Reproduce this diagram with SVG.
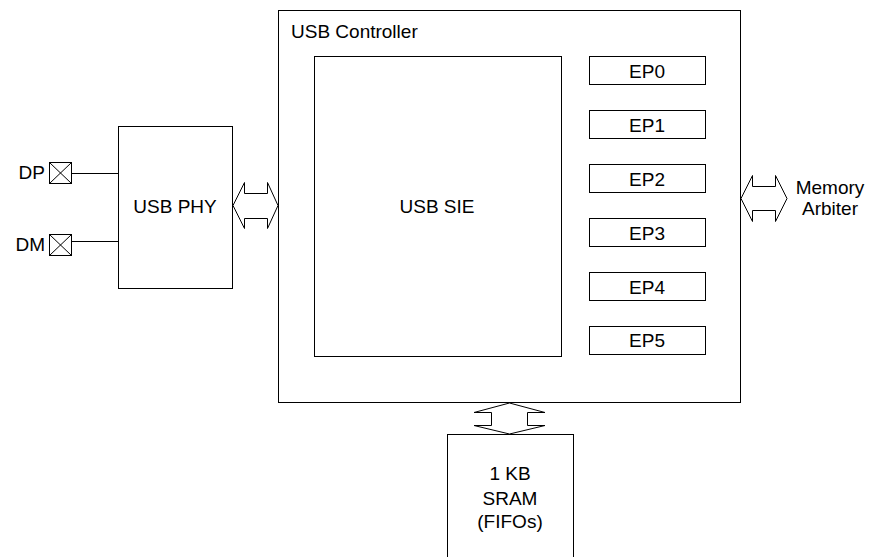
<svg xmlns="http://www.w3.org/2000/svg" width="869" height="557" viewBox="0 0 869 557">
<style>
.b{fill:#fff;stroke:#000;stroke-width:1}
.t{font-family:"Liberation Sans",Arial,sans-serif;font-size:19px;fill:#000}
.c{text-anchor:middle}
.e{text-anchor:end}
.l{fill:none;stroke:#000;stroke-width:1}
</style>
<rect width="869" height="557" fill="#fff"/>
<g id="controller">
<rect class="b" x="278.5" y="10.5" width="462" height="392"/>
<text class="t" x="291" y="38">USB Controller</text>
</g>
<g id="sie">
<rect class="b" x="314.5" y="56.5" width="247" height="300"/>
<text class="t c" x="437" y="213">USB SIE</text>
</g>
<g id="ep0"><rect class="b" x="589.5" y="56.5" width="116" height="28"/><text class="t c" x="647" y="78">EP0</text></g>
<g id="ep1"><rect class="b" x="589.5" y="110.5" width="116" height="28"/><text class="t c" x="647" y="132">EP1</text></g>
<g id="ep2"><rect class="b" x="589.5" y="164.5" width="116" height="28"/><text class="t c" x="647" y="186">EP2</text></g>
<g id="ep3"><rect class="b" x="589.5" y="218.5" width="116" height="28"/><text class="t c" x="647" y="240">EP3</text></g>
<g id="ep4"><rect class="b" x="589.5" y="272.5" width="116" height="28"/><text class="t c" x="647" y="294">EP4</text></g>
<g id="ep5"><rect class="b" x="589.5" y="326.5" width="116" height="28"/><text class="t c" x="647" y="347">EP5</text></g>
<g id="phy">
<rect class="b" x="118.5" y="126.5" width="114" height="162"/>
<text class="t c" x="175" y="213">USB PHY</text>
</g>
<g id="dp">
<rect class="b" x="49.5" y="162.5" width="22" height="21"/>
<path class="l" d="M49.5 162.5L71.5 183.5M71.5 162.5L49.5 183.5"/>
<text class="t e" x="45" y="179">DP</text>
</g>
<g id="dm">
<rect class="b" x="49.5" y="234.5" width="22" height="21"/>
<path class="l" d="M49.5 234.5L71.5 255.5M71.5 234.5L49.5 255.5"/>
<text class="t e" x="45" y="251">DM</text>
</g>
<g id="memory">
<text class="t c" x="830" y="194">Memory</text>
<text class="t c" x="830" y="215">Arbiter</text>
</g>
<g id="sram">
<rect class="b" x="447.5" y="434.5" width="126" height="130"/>
<text class="t c" x="510" y="480">1 KB</text>
<text class="t c" x="510" y="505">SRAM</text>
<text class="t c" x="510" y="528">(FIFOs)</text>
</g>
<g id="connectors">
<path class="l" d="M71.5 173.5H118.5M71.5 241.5H118.5"/>
<path class="b" d="M233 205.5L244.5 182.5V193.5H267.5V182.5L278 205.5L267.5 228.5V218.5H244.5V228.5Z"/>
<path class="b" d="M741 198.5L752.5 175.5V186.5H775.5V175.5L787 198.5L775.5 221.5V210.5H752.5V221.5Z"/>
<path class="b" d="M509.5 403L545 412.5H527.5V425.5H545L509.5 434L474 425.5H491.5V412.5H474Z"/>
</g>
</svg>
